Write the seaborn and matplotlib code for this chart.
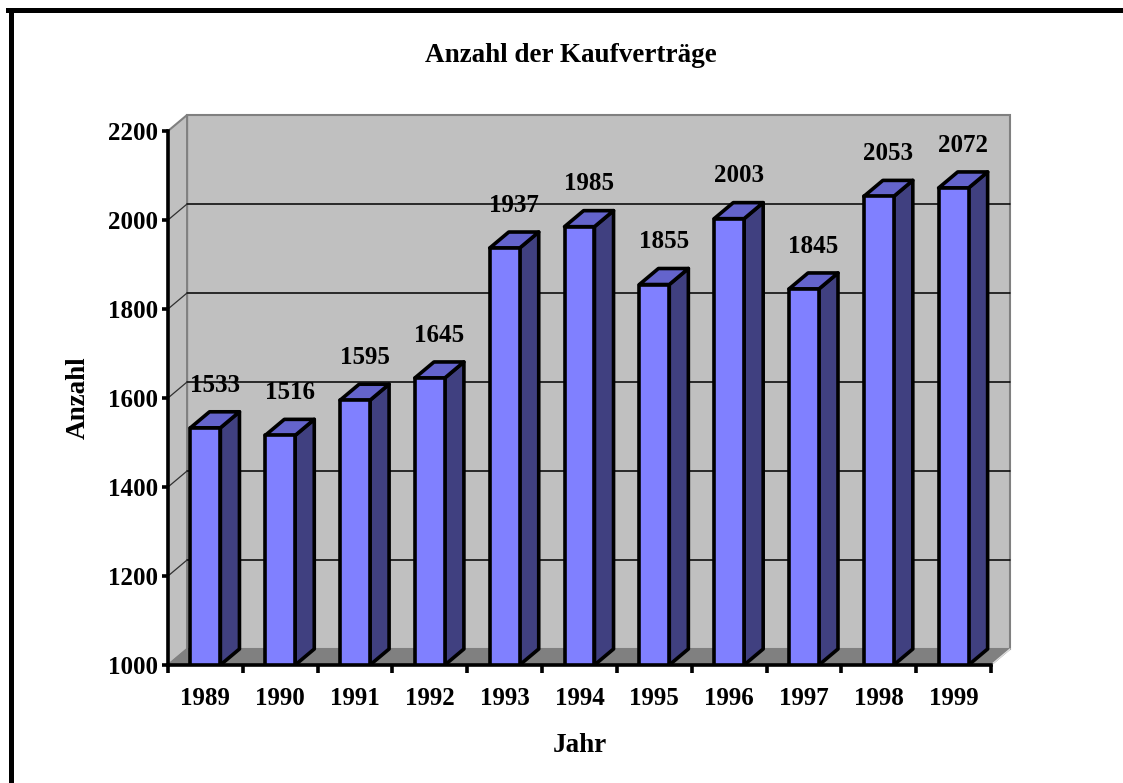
import numpy as np
import pandas as pd
import matplotlib
matplotlib.use("Agg")
import matplotlib.pyplot as plt
from matplotlib.patches import Polygon
from matplotlib.lines import Line2D
import seaborn as sns

# ---- data ----
years = ["1989", "1990", "1991", "1992", "1993", "1994", "1995", "1996", "1997", "1998", "1999"]
counts = [1533, 1516, 1595, 1645, 1937, 1985, 1855, 2003, 1845, 2053, 2072]
y_ticks = [1000, 1200, 1400, 1600, 1800, 2000, 2200]
title = "Anzahl der Kaufverträge"
x_label = "Jahr"
y_label = "Anzahl"

# ---- style ----
FRONT = "#8080FF"
TOP = "#6464CC"
SIDE = "#404080"
WALL = "#C0C0C0"
FLOOR = "#808080"
EDGE_GRAY = "#808080"

sns.set_style("white")
plt.rcParams['font.family'] = ['Liberation Serif', 'DejaVu Serif']
plt.rcParams['font.weight'] = 'bold'
for k in ["text.color", "axes.labelcolor", "xtick.color", "ytick.color"]:
    plt.rcParams[k] = "black"
FS_NUM = 18
FS_TXT = 19.5

W, H = 1123, 783
fig = plt.figure(figsize=(W / 100, H / 100), dpi=100)
ax = fig.add_axes([168 / W, 1 - 665 / H, (991 - 168) / W, (665 - 131) / H])
ax.patch.set_visible(False)

n = len(years)
ymin, ymax = y_ticks[0], y_ticks[-1]
ax.set_xlim(-0.5, n - 0.5)
ax.set_ylim(ymin, ymax)

# depth offset of the 3D look (in data units)
DX = 0.255
DY = 36

xl, xr = -0.5, n - 0.5

# back wall
ax.add_patch(Polygon([(xl + DX, ymin + DY), (xr + DX, ymin + DY), (xr + DX, ymax + DY), (xl + DX, ymax + DY)],
                     closed=True, facecolor=WALL, edgecolor=EDGE_GRAY, lw=1.5, clip_on=False, zorder=0.5))
# left side wall
ax.add_patch(Polygon([(xl, ymin), (xl, ymax), (xl + DX, ymax + DY), (xl + DX, ymin + DY)],
                     closed=True, facecolor=WALL, edgecolor=EDGE_GRAY, lw=1.5, clip_on=False, zorder=0.5))
# floor
ax.add_patch(Polygon([(xl, ymin), (xr, ymin), (xr + DX, ymin + DY), (xl + DX, ymin + DY)],
                     closed=True, facecolor=FLOOR, edgecolor=FLOOR, lw=1, clip_on=False, zorder=0.6))
ax.plot([xr, xr + DX], [ymin, ymin + DY], color="#E0E0E0", lw=1, clip_on=False, zorder=0.7)

# gridlines on wall
for yv in y_ticks[1:-1]:
    ax.plot([xl + DX, xr + DX], [yv + DY, yv + DY], color="black", lw=1.1, clip_on=False, zorder=0.8)
    ax.plot([xl, xl + DX], [yv, yv + DY], color="#303030", lw=0.9, clip_on=False, zorder=0.8)

# front faces via seaborn
df = pd.DataFrame({"Jahr": years, "Anzahl": counts})
sns.barplot(data=df, x="Jahr", y="Anzahl", order=years, color=FRONT, saturation=1,
            width=0.4, edgecolor="black", linewidth=2.6, errorbar=None, ax=ax, zorder=3)

bars = [p for p in ax.patches if p.get_zorder() == 3]
for p, v in zip(bars, counts):
    x0 = p.get_x()
    x1 = x0 + p.get_width()
    h = p.get_height()
    side = Polygon([(x1, ymin), (x1, h), (x1 + DX, h + DY), (x1 + DX, ymin + DY)], closed=True,
                   facecolor=SIDE, edgecolor="black", lw=2.6, joinstyle="round", zorder=2.9)
    top = Polygon([(x0, h), (x1, h), (x1 + DX, h + DY), (x0 + DX, h + DY)], closed=True,
                  facecolor=TOP, edgecolor="black", lw=2.6, joinstyle="round", zorder=2.9)
    ax.add_patch(side)
    ax.add_patch(top)
    p.set_joinstyle("round")
    ax.annotate(str(v), xy=((x0 + x1) / 2 + DX / 2, h + DY), xytext=(0, 11), textcoords="offset points",
                ha="center", va="bottom", fontsize=FS_NUM, fontweight="bold", zorder=5)

# axes styling
for s in ["top", "right"]:
    ax.spines[s].set_visible(False)
for s in ["left", "bottom"]:
    ax.spines[s].set_color("black")
    ax.spines[s].set_linewidth(2.6)
    ax.spines[s].set_zorder(4)

ax.set_yticks(y_ticks)
ax.set_yticklabels([str(t) for t in y_ticks], fontsize=FS_NUM, fontweight="bold")
ax.set_xticks(np.arange(n + 1) - 0.5)
ax.set_xticklabels([])
ax.set_xticks(np.arange(n), minor=True)
ax.set_xticklabels(years, minor=True, fontsize=FS_NUM, fontweight="bold")
ax.tick_params(axis="y", which="major", direction="out", length=4, width=2.6, color="black", pad=3, left=True)
ax.tick_params(axis="x", which="major", direction="out", length=6, width=2.6, color="black", bottom=True)
ax.tick_params(axis="x", which="minor", length=0, pad=16, bottom=True)
ax.grid(False)

ax.set_xlabel(x_label, fontsize=FS_TXT, fontweight="bold")
ax.set_ylabel(y_label, fontsize=FS_TXT, fontweight="bold")
ax.xaxis.set_label_coords(0.5, (783 - 745 - 118) / 534)
ax.xaxis.label.set_va("center")
ax.yaxis.set_label_coords((78 - 168) / 823, 0.5)
ax.yaxis.label.set_va("center")

fig.text(571 / W, 1 - 55 / H, title, ha="center", va="center", fontsize=FS_TXT, fontweight="bold")

# outer frame (top and left edges visible)
fig.add_artist(Line2D([8 / W, 1.0], [1 - 9.5 / H, 1 - 9.5 / H], transform=fig.transFigure,
                      color="black", lw=3.6, solid_capstyle="projecting"))
fig.add_artist(Line2D([10.5 / W, 10.5 / W], [0.0, 1 - 9.5 / H], transform=fig.transFigure,
                      color="black", lw=3.6, solid_capstyle="projecting"))

fig.savefig("out.png", dpi=100)
